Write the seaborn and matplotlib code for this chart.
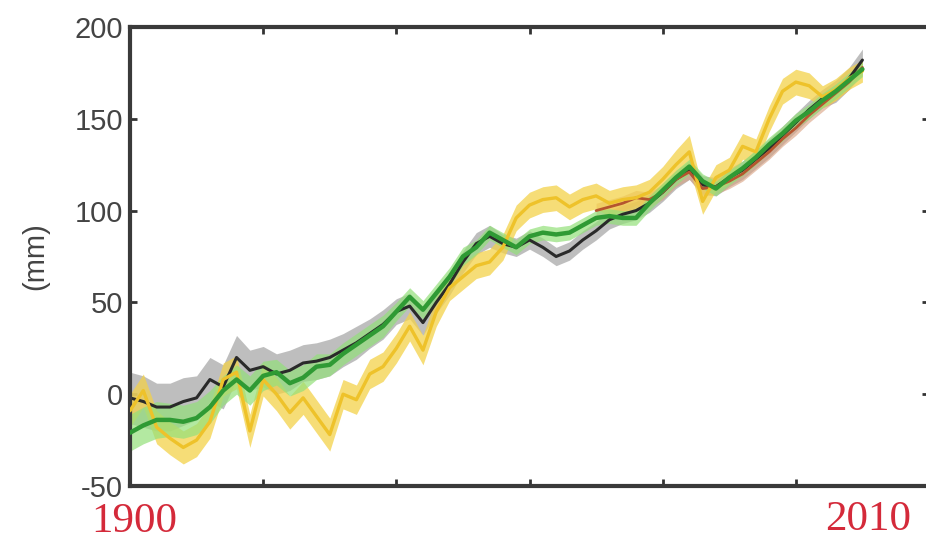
import numpy as np
import pandas as pd
import matplotlib
matplotlib.use("Agg")
import matplotlib.pyplot as plt
import seaborn as sns

years = list(range(1900, 2011, 2))

green = [-21, -17, -14, -14, -15, -13, -7, 2, 8, 2, 10, 12, 6, 9, 15, 16, 22, 27, 32, 37,
         45, 53, 46, 55, 64, 75, 80, 88, 84, 80, 86, 88, 87, 88, 92, 96, 97, 96, 96, 104,
         111, 118, 124, 116, 112, 118, 123, 129, 136, 142, 149, 154, 160, 165, 171, 177]
green_err = [10, 10, 10, 9, 9, 9, 9, 8, 8, 8, 8, 7, 7, 7, 7, 6, 6, 6, 6, 6,
             5, 5, 5, 5, 5, 5, 4, 4, 4, 4, 4, 4, 4, 4, 4, 4, 4, 4, 4, 4,
             4, 4, 4, 4, 4, 4, 4, 4, 4, 4, 4, 4, 4, 4, 4, 4]

black = [-2, -4, -7, -7, -4, -2, 8, 4, 20, 13, 15, 11, 13, 17, 18, 20, 24, 28, 33, 38,
         45, 48, 39, 50, 60, 72, 82, 86, 82, 80, 84, 80, 75, 78, 84, 89, 95, 98, 100, 104,
         110, 117, 122, 114, 113, 118, 122, 128, 134, 141, 148, 155, 161, 165, 172, 182]
black_err = [14, 14, 13, 13, 13, 12, 12, 12, 12, 11, 11, 11, 11, 10, 10, 10, 9, 9, 8, 8,
             7, 7, 7, 6, 6, 6, 6, 6, 5, 5, 5, 5, 5, 5, 5, 5, 5, 5, 5, 5,
             5, 5, 5, 5, 5, 5, 5, 5, 5, 5, 5, 5, 5, 6, 6, 6]

yellow = [-9, 2, -18, -24, -29, -25, -15, 8, 12, -20, 8, 0, -10, -2, -12, -22, 0, -3, 11, 15,
          25, 37, 24, 45, 58, 64, 70, 72, 80, 96, 103, 106, 107, 102, 106, 108, 104, 106, 107, 110,
          117, 125, 132, 105, 118, 122, 135, 132, 150, 165, 170, 168, 162, 166, 172, 176]
yellow_err = [9, 9, 9, 9, 9, 9, 9, 9, 9, 9, 9, 9, 9, 9, 9, 9, 8, 8, 8, 8,
              8, 8, 8, 8, 7, 7, 7, 7, 7, 7, 7, 7, 7, 7, 7, 7, 7, 7, 7, 7,
              7, 8, 9, 7, 7, 7, 7, 7, 7, 7, 7, 7, 6, 6, 6, 6]

red_years = list(range(1970, 2011, 2))
red = [100, 102, 104, 107, 106, 110, 117, 121, 112, 113,
       116, 120, 126, 132, 139, 145, 152, 158, 164, 170, 178]
red_err = [4] * len(red)

y_ticks = [-50, 0, 50, 100, 150, 200]
x_ticks = [1900, 1920, 1940, 1960, 1980, 2000, 2020]
y_label = "(mm)"
start_label = "1900"
end_label = "2010"

sns.set_theme(style="white")
plt.rcParams['font.family'] = ['Liberation Sans', 'DejaVu Sans']

fig = plt.figure(figsize=(9.26, 5.42), dpi=100)
ax = fig.add_axes([130 / 926, 1 - 486 / 542, 799 / 926, (486 - 27) / 542])

def band(x, y, e, color, alpha):
    y = np.asarray(y, float)
    e = np.asarray(e, float)
    ax.fill_between(x, y - e, y + e, color=color, alpha=alpha, linewidth=0, zorder=1)

band(years, black, black_err, "#a9a9a9", 0.75)
band(red_years, red, red_err, "#d9a080", 0.6)
band(years, yellow, yellow_err, "#f3d24a", 0.75)
band(years, green, green_err, "#93e07a", 0.7)

df_black = pd.DataFrame({"year": years, "mm": black})
df_red = pd.DataFrame({"year": red_years, "mm": red})
df_yellow = pd.DataFrame({"year": years, "mm": yellow})
df_green = pd.DataFrame({"year": years, "mm": green})

sns.lineplot(data=df_black, x="year", y="mm", ax=ax, color="#2a2a2a", linewidth=2.2, zorder=2)
sns.lineplot(data=df_red, x="year", y="mm", ax=ax, color="#b5552e", linewidth=2.0, zorder=2)
sns.lineplot(data=df_yellow, x="year", y="mm", ax=ax, color="#eec22a", linewidth=2.4, zorder=3)
sns.lineplot(data=df_green, x="year", y="mm", ax=ax, color="#2f9a34", linewidth=3.2, zorder=4)

ax.set_xlim(1900, 2020)
ax.set_ylim(-50, 200)
ax.set_xticks(x_ticks)
ax.set_xticklabels([])
ax.set_yticks(y_ticks)
ax.set_yticklabels([str(t) for t in y_ticks], fontsize=21, color="#444444")
ax.set_xlabel("")
ax.set_ylabel("")
ax.tick_params(direction="in", length=5, width=2, color="#333333",
               top=True, right=True, bottom=True, left=True, pad=5)
for s in ax.spines.values():
    s.set_color("#3a3a3a")
    s.set_linewidth(3)
    s.set_visible(True)

fig.text(35 / 926, 1 - 256 / 542, y_label, rotation=90, ha="center", va="center",
         fontsize=21, color="#444444")
fig.text(134 / 926, 1 - 522 / 542, start_label, ha="center", va="center",
         fontsize=31, color="#d42a3a", family=["Liberation Serif", "DejaVu Serif"])
fig.text(868 / 926, 1 - 520 / 542, end_label, ha="center", va="center",
         fontsize=31, color="#d42a3a", family=["Liberation Serif", "DejaVu Serif"])

fig.savefig("out.png", dpi=100)
